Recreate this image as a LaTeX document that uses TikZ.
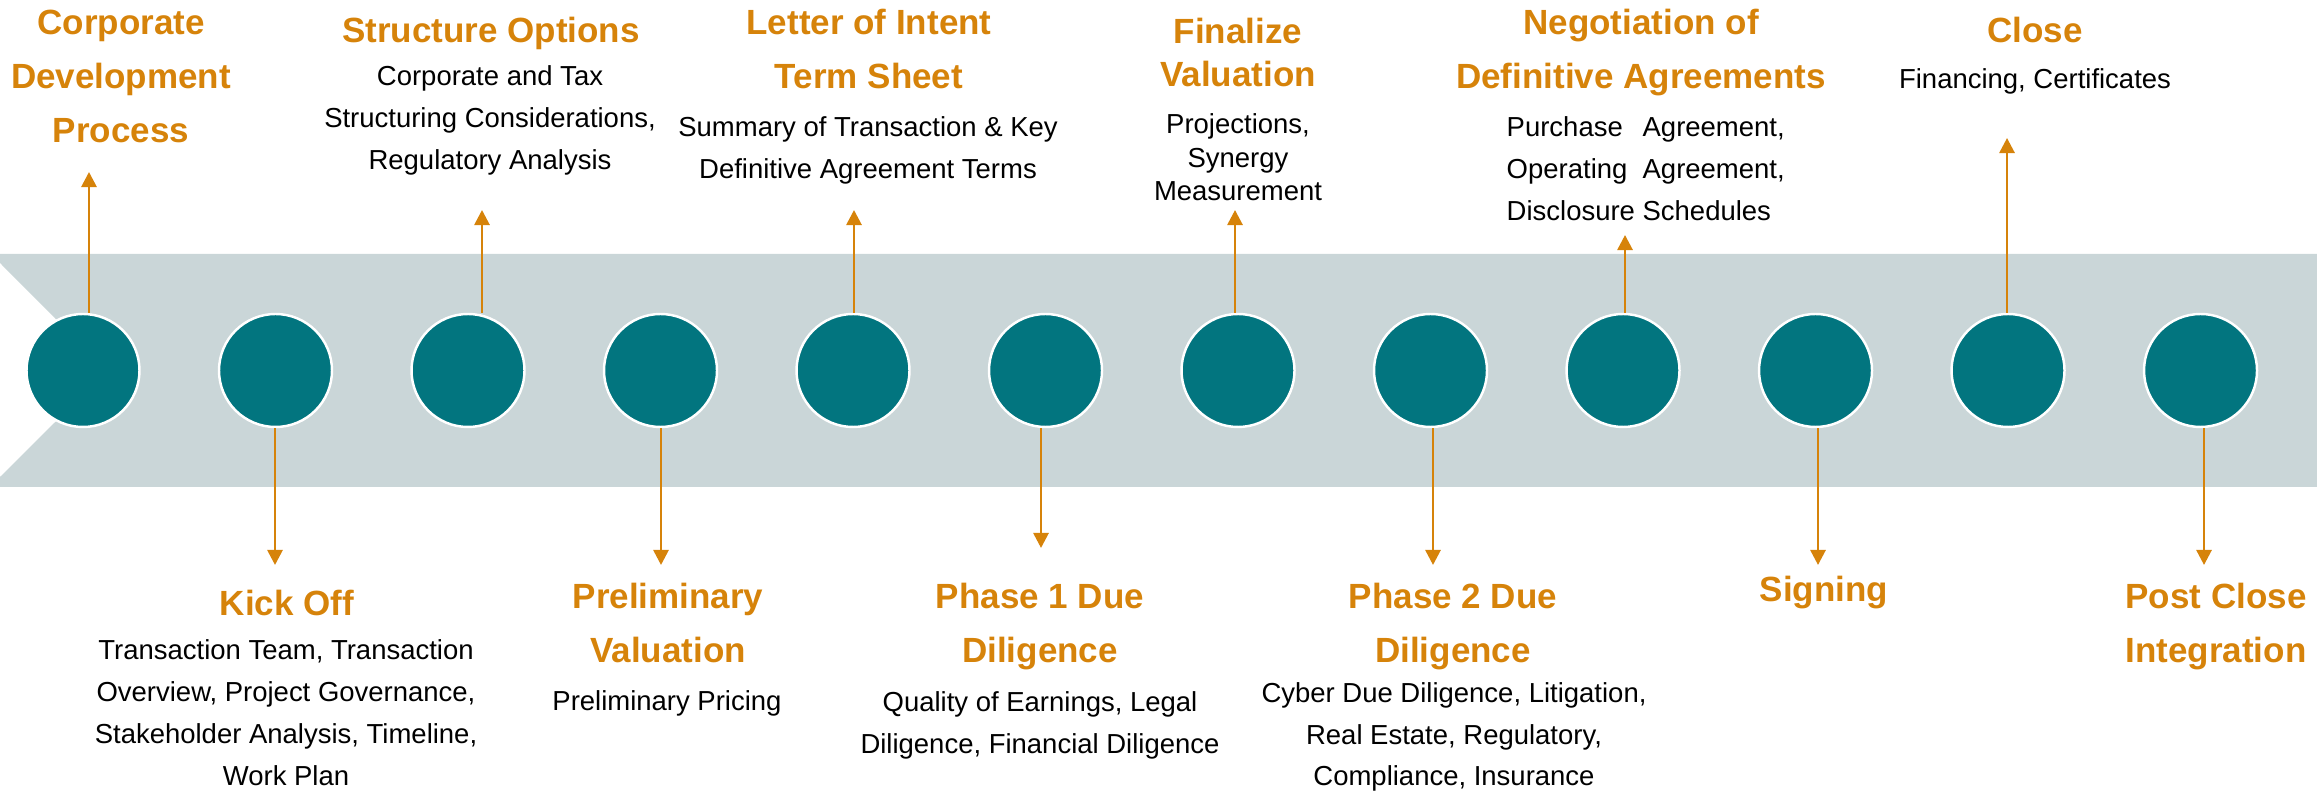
\documentclass[tikz,border=0pt]{standalone}
\usepackage{fontspec}
\setmainfont{Liberation Sans}
\usetikzlibrary{arrows.meta}
\definecolor{stepteal}{RGB}{2,117,127}
\definecolor{bandgrey}{RGB}{202,214,216}
\definecolor{accent}{RGB}{214,131,10}
\begin{document}
\begin{tikzpicture}[x=0.1mm,y=-0.1mm,
  stage/.style={circle,fill=stepteal,draw=white,line width=0.7pt,minimum size=11.3mm,inner sep=0},
  % multi-line labels sit on the baseline of their last line
  title/.style={font=\bfseries\fontsize{9.96}{15.4}\selectfont,text=accent,align=center,inner sep=0,anchor=base},
  tighttitle/.style={title,font=\bfseries\fontsize{9.96}{12.5}\selectfont},
  body/.style={font=\fontsize{7.82}{11.95}\selectfont,align=center,inner sep=0,anchor=base},
  tightbody/.style={body,font=\fontsize{7.82}{9.67}\selectfont},
  link/.style={draw=accent,line width=0.77pt,-{Triangle[length=4.3pt,width=4.3pt]}}
]
\useasboundingbox (0,0) rectangle (2317,800);
% band with a notched left end
\fill[bandgrey] (0,254) -- (2317,254) -- (2317,487) -- (0,487) -- (0,477)
  -- (107,370.5) -- (0,263) -- cycle;
% process stages
\foreach \i in {0,...,11}
  \node[stage] (c\i) at ({83+192.5*\i},370.5) {};
% arrow tips
\coordinate (t0) at (89,172);
\coordinate (t2) at (482,210);
\coordinate (t4) at (854,210);
\coordinate (t6) at (1235,210);
\coordinate (t8) at (1625,235);
\coordinate (t10) at (2007,138);
\coordinate (t1) at (275,565);
\coordinate (t3) at (661,565);
\coordinate (t5) at (1041,548);
\coordinate (t7) at (1433,565);
\coordinate (t9) at (1818,565);
\coordinate (t11) at (2204,565);
\foreach \i in {0,2,4,6,8,10}
  \draw[link] (t\i |- c\i.north) -- (t\i);
\foreach \i in {1,3,5,7,9,11}
  \draw[link] (t\i |- c\i.south) -- (t\i);
% labels above the band
\node[title] (h0) at (121,143) {Corporate\\Development\\Process};
\node[title] (h2) at (491,43) {Structure Options};
\node[body] (d2) at (490,170) {Corporate and Tax\\Structuring Considerations,\\Regulatory Analysis};
\node[title] (h4) at (869,89) {Letter of Intent\\Term Sheet};
\node[body] (d4) at (868,179) {Summary of Transaction \& Key\\Definitive Agreement Terms};
\node[tighttitle] (h6) at (1238,87) {Finalize\\Valuation};
\node[tightbody] (d6) at (1238,201) {Projections,\\Synergy\\Measurement};
\node[title] (h8) at (1641,89) {Negotiation of\\Definitive Agreements};
\node[body,anchor=base west] (d8) at (1506,137)
  {\begin{tabular}[t]{@{}l@{\ }l@{}}Purchase&Agreement,\\Operating&Agreement,\\Disclosure&Schedules\end{tabular}};
\node[title] (h10) at (2035,43) {Close};
\node[body] (d10) at (2035,89) {Financing, Certificates};
% labels below the band
\node[title] (h1) at (287,616) {Kick Off};
\node[body] (d1) at (286,785) {Transaction Team, Transaction\\Overview, Project Governance,\\Stakeholder Analysis, Timeline,\\Work Plan};
\node[title] (h3) at (668,663) {Preliminary\\Valuation};
\node[body] (d3) at (667,711) {Preliminary Pricing};
\node[title] (h5) at (1040,663) {Phase 1 Due\\Diligence};
\node[body] (d5) at (1040,753) {Quality of Earnings, Legal\\Diligence, Financial Diligence};
\node[title] (h7) at (1453,663) {Phase 2 Due\\Diligence};
\node[body] (d7) at (1454,786) {Cyber Due Diligence, Litigation,\\Real Estate, Regulatory,\\Compliance, Insurance};
\node[title] (h9) at (1824,602) {Signing};
\node[title] (h11) at (2216,663) {Post Close\\Integration};
\end{tikzpicture}
\end{document}
